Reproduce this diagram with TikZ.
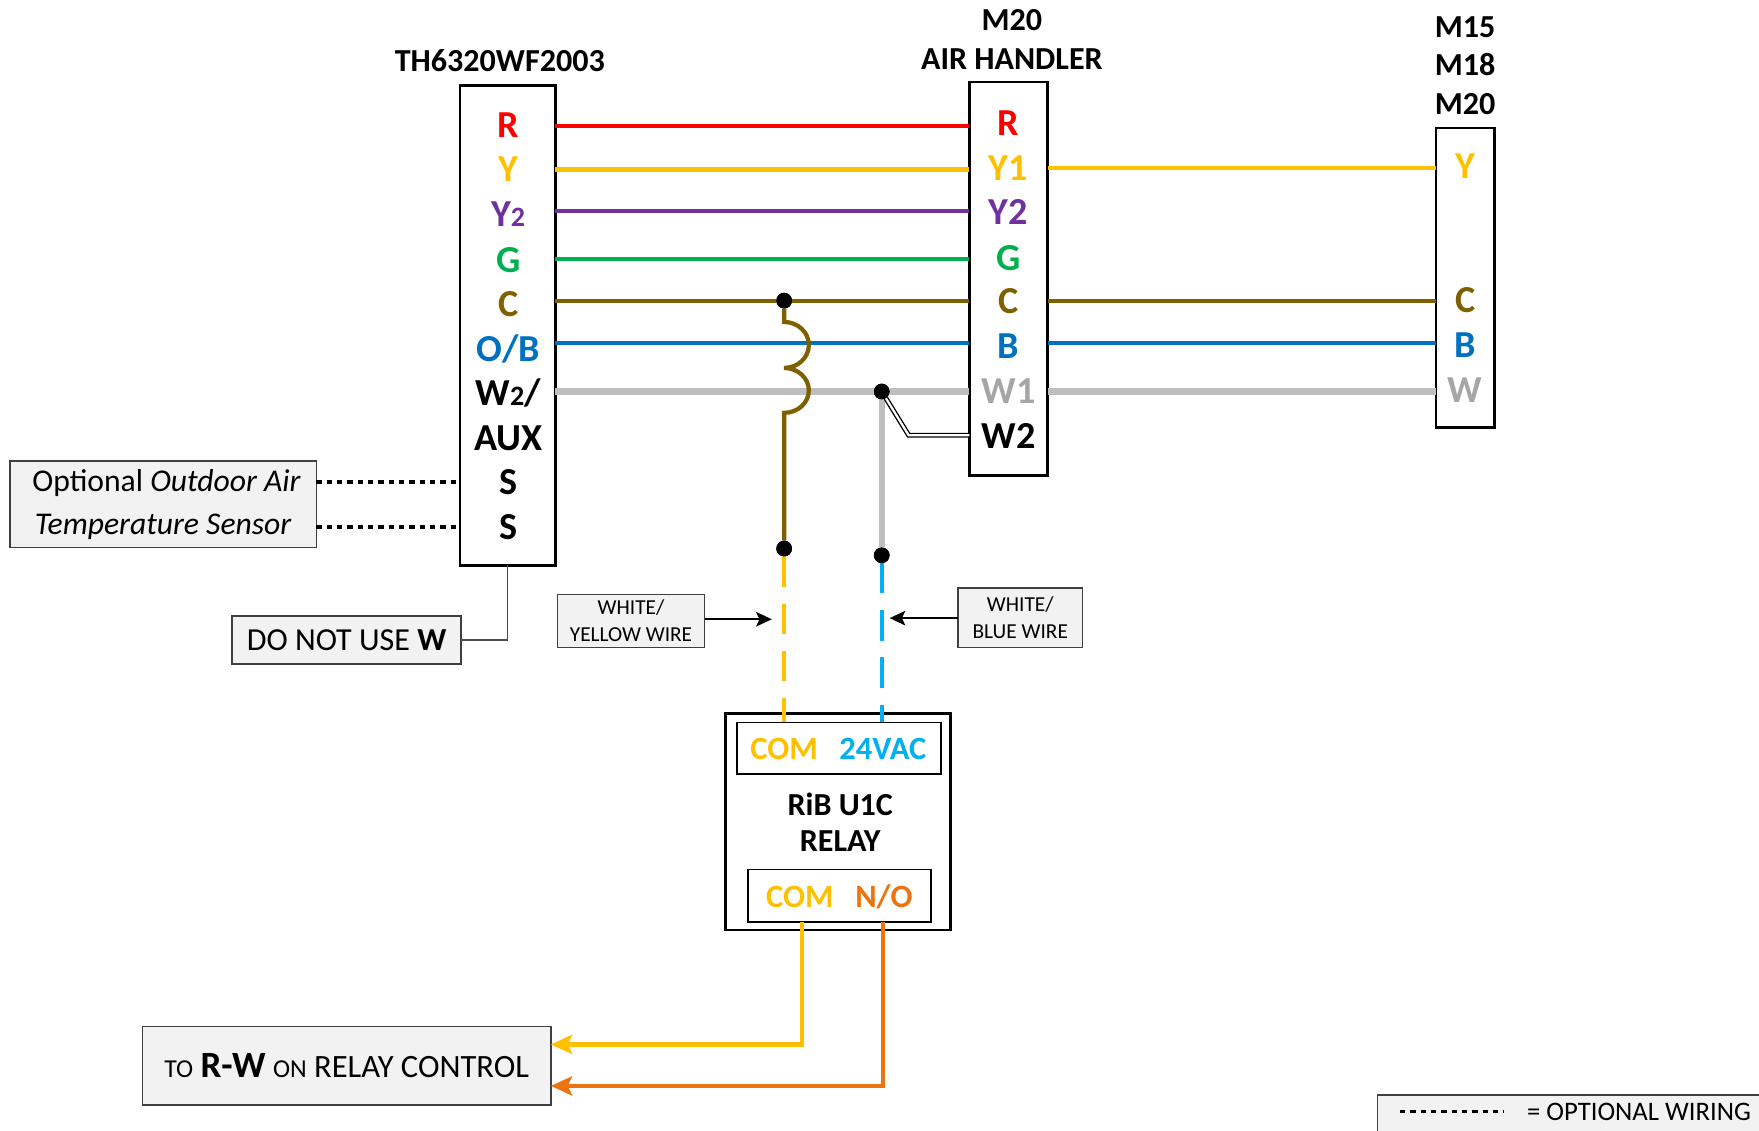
\documentclass[tikz,border=0pt]{standalone}
\usepackage{fontspec}
\setmainfont{Carlito}
\setsansfont{Carlito}
\usetikzlibrary{arrows.meta}

\definecolor{wirered}{HTML}{FF0000}
\definecolor{wireyellow}{HTML}{FFC000}
\definecolor{wirepurple}{HTML}{7030A0}
\definecolor{wiregreen}{HTML}{00B050}
\definecolor{wirebrown}{HTML}{7F6000}
\definecolor{wireblue}{HTML}{0070C0}
\definecolor{wiregray}{HTML}{BFBFBF}
\definecolor{wirecyan}{HTML}{00B0F0}
\definecolor{wireorange}{HTML}{EC7410}
\definecolor{notegray}{HTML}{F2F2F2}

\newcommand{\smalltwo}{{\fontsize{12.5}{12.5}\selectfont 2}}

\begin{document}
\begin{tikzpicture}[
  x=0.5pt,y=-0.5pt,
  font=\sffamily,
  every node/.style={align=center,inner sep=0pt,outer sep=0pt},
  terminal/.style={draw,line width=1.2pt},
  inner box/.style={draw,line width=.7pt},
  note/.style={draw=black!75,line width=.7pt,fill=notegray},
  port/.style={font=\sffamily\bfseries\fontsize{17}{17}\selectfont,text height=11pt,text depth=0pt,yshift=-.4pt},
  relay port/.style={font=\sffamily\bfseries\fontsize{14.5}{14.5}\selectfont,text height=9.4pt,text depth=0pt,yshift=-.4pt},
  heading/.style={font=\sffamily\bfseries\fontsize{14.3}{14.3}\selectfont,yshift=-.4pt},
  wire/.style={line width=1.9pt},
  thick wire/.style={line width=2.8pt,wiregray},
  feed/.style={line width=1.9pt,dash pattern=on 13.5pt off 7.5pt},
  optional/.style={line width=1.5pt,dash pattern=on 2.4pt off 2.2pt},
  dot/.style={circle,fill=black,minimum size=7pt},
  to/.style={-{Stealth[length=7pt,width=6.5pt,inset=1.5pt]},line width=.7pt},
  outwire/.style={-{Stealth[length=9.5pt,width=8.5pt,inset=2pt]},line width=1.9pt}]
  \useasboundingbox (0,0) rectangle (1568,1007.3);

  % Terminal blocks and their headings
  \node[terminal,minimum width=42.5pt,minimum height=214pt] (th) at (452.5,290) {};
  \node[terminal,minimum width=35pt,minimum height=175.5pt] (ah) at (899,248.5) {};
  \node[terminal,minimum width=26pt,minimum height=133.5pt] (cond) at (1306,247.5) {};
  \node[heading] (th_title) at (445.5,53) {TH6320WF2003};
  \node[heading] (ah_title1) at (902,17) {M20};
  \node[heading] (ah_title2) at (902,52) {AIR HANDLER};
  \node[heading] (cond_title1) at (1306,23) {M15};
  \node[heading] (cond_title2) at (1306,57) {M18};
  \node[heading] (cond_title3) at (1306,92) {M20};

  % Thermostat terminals
  \node[port,wirered] (th_r) at (453,111) {R};
  \node[port,wireyellow] (th_y) at (453,150) {Y};
  \node[port,wirepurple] (th_y2) at (453,190) {Y\smalltwo};
  \node[port,wiregreen] (th_g) at (453,231) {G};
  \node[port,wirebrown] (th_c) at (453,270) {C};
  \node[port,wireblue] (th_b) at (453,310) {O/B};
  \node[port] (th_w) at (453,350) {W\smalltwo/};
  \node[port] (th_aux) at (453,390) {AUX};
  \node[port] (th_s1) at (453,429) {S};
  \node[port] (th_s2) at (453,469) {S};

  % Air handler terminals
  \node[port,wirered] (ah_r) at (899,109) {R};
  \node[port,wireyellow] (ah_y) at (899,149) {Y1};
  \node[port,wirepurple] (ah_y2) at (899,188) {Y2};
  \node[port,wiregreen] (ah_g) at (899,229) {G};
  \node[port,wirebrown] (ah_c) at (899,268) {C};
  \node[port,wireblue] (ah_b) at (899,308) {B};
  \node[port,black!35] (ah_w1) at (899,348) {W1};
  \node[port] (ah_w2) at (899,388) {W2};

  % Third block terminals
  \node[port,wireyellow] (cond_y) at (1306,147) {Y};
  \node[port,wirebrown] (cond_c) at (1306,267) {C};
  \node[port,wireblue] (cond_b) at (1306,307) {B};
  \node[port,black!35] (cond_w) at (1306,347) {W};

  % Relay
  \node[terminal,minimum width=100pt,minimum height=96.5pt] (relay) at (747,732.5) {};
  \node[inner box,minimum width=91pt,minimum height=23pt] (relay_top) at (748,667) {};
  \node[inner box,minimum width=81.5pt,minimum height=23.5pt] (relay_bot) at (748.5,798.5) {};
  \node[relay port,wireyellow] (relay_com1) at (699,667) {COM};
  \node[relay port,wirecyan] (relay_24) at (787,667) {24VAC};
  \node[heading] (relay_name1) at (749,716) {RiB U1C};
  \node[heading] (relay_name2) at (749,749) {RELAY};
  \node[relay port,wireyellow] (relay_com2) at (713,799) {COM};
  \node[relay port,wireorange] (relay_no) at (788,799) {N/O};

  % Notes
  \node[note,minimum width=136.5pt,minimum height=38.5pt,font=\sffamily\fontsize{14.1}{19}\selectfont] (sensor) at (145.5,449.5) {\hspace*{3pt}Optional \textit{Outdoor Air}\\\textit{Temperature Sensor}};
  \node[note,minimum width=102pt,minimum height=21.5pt,font=\sffamily\fontsize{14.3}{14.3}\selectfont] (no_w) at (309,570.5) {DO NOT USE \textbf{W}};
  \node[note,minimum width=65.5pt,minimum height=23.5pt,font=\sffamily\fontsize{9.5}{12}\selectfont] (note_y) at (562.5,553.5) {WHITE/\\YELLOW WIRE};
  \node[note,minimum width=55.5pt,minimum height=26.5pt,font=\sffamily\fontsize{9.5}{12}\selectfont] (note_b) at (909.5,550.5) {WHITE/\\BLUE WIRE};
  \node[note,minimum width=182pt,minimum height=35pt,font=\sffamily\fontsize{14.5}{14.5}\selectfont] (control) at (309,950) {{\fontsize{11.5}{11.5}\selectfont TO} \textbf{\fontsize{16.5}{16.5}\selectfont R-W} {\fontsize{11.5}{11.5}\selectfont ON} RELAY CONTROL};
  \node[note,minimum width=200pt,minimum height=30pt] (legend) at (1428,1006) {};
  \node[font=\sffamily\fontsize{11.9}{11.9}\selectfont] (legend_text) at (1461,991) {= OPTIONAL WIRING};

  % Junction dots
  \node[dot] (dot_c) at (699,268) {};
  \node[dot] (dot_w) at (786,349) {};
  \node[dot] (dot_y) at (699,489) {};
  \node[dot] (dot_b) at (786,495) {};
  \coordinate (legend_a) at (1248,991);
  \coordinate (legend_b) at (1341,991);
  \coordinate (bend_w2) at (810,388);
  \coordinate (corner_com) at (715,931);
  \coordinate (corner_no) at (787,968);

  % Wires from the thermostat to the air handler
  \draw[wire,wirered] (th.east |- 0,112) -- (ah.west |- 0,112);
  \draw[wire,wireyellow] (th.east |- 0,151) -- (ah.west |- 0,151);
  \draw[wire,wirepurple] (th.east |- 0,188) -- (ah.west |- 0,188);
  \draw[wire,wiregreen] (th.east |- 0,231) -- (ah.west |- 0,231);
  \draw[wire,wireblue] (th.east |- 0,306) -- (ah.west |- 0,306);
  \draw[thick wire] (th.east |- dot_w) -- (dot_w) -- (ah.west |- dot_w);
  \draw[wire,wirebrown] (th.east |- dot_c) -- (dot_c) -- (ah.west |- dot_c);

  % Wires from the air handler to the third block
  \draw[wire,wireyellow] (ah.east |- 0,150) -- (cond.west |- 0,150);
  \draw[wire,wirebrown] (ah.east |- dot_c) -- (cond.west |- dot_c);
  \draw[wire,wireblue] (ah.east |- 0,306) -- (cond.west |- 0,306);
  \draw[thick wire] (ah.east |- dot_w) -- (cond.west |- dot_w);

  % Tap wires down to the relay
  \draw[wire,wirebrown] (dot_c) -- (699,287) arc[start angle=90,end angle=-90,x radius=11pt,y radius=10.25pt]
    arc[start angle=90,end angle=-90,x radius=11pt,y radius=10pt] -- (dot_y);
  \draw[thick wire] (dot_w) -- (dot_b);
  \draw[feed,wireyellow] (dot_y) -- (dot_y |- relay_top.north);
  \draw[feed,wirecyan] (dot_b) -- (dot_b |- relay_top.north);
  \draw[line width=.6pt,double,double distance=1pt] (dot_w) -- (bend_w2) -- (ah.west |- bend_w2);
  \node[dot] at (dot_w) {};
  \node[dot] at (dot_c) {};
  \node[dot] at (dot_y) {};
  \node[dot] at (dot_b) {};

  % Optional and note wiring
  \draw[optional] (sensor.east |- th_s1) -- (th.west |- th_s1);
  \draw[optional] (sensor.east |- th_s2) -- (th.west |- th_s2);
  \draw[optional] (legend_a) -- (legend_b);
  \draw[line width=.6pt,black!70] (no_w.east) -| (th.south);
  \draw[to] (note_y.east |- 0,552) -- (688,552);
  \draw[to] (note_b.west |- 0,551) -- (793,551);

  % Relay outputs
  \draw[outwire,wireyellow] (relay_bot.south -| corner_com) -- (corner_com) -- (control.east |- corner_com);
  \draw[outwire,wireorange] (relay_bot.south -| corner_no) -- (corner_no) -- (control.east |- corner_no);
\end{tikzpicture}
\end{document}
